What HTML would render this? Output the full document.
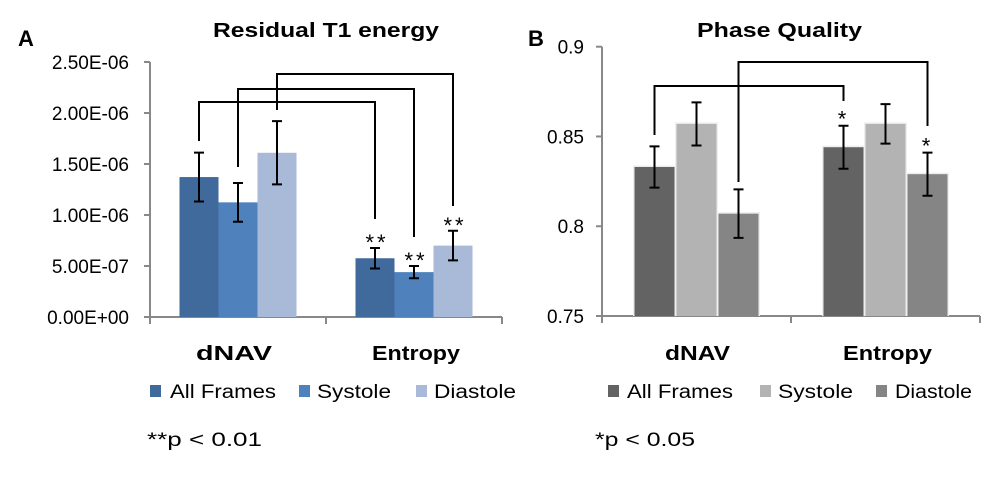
<!DOCTYPE html>
<html><head><meta charset="utf-8"><style>
body{margin:0;background:#fff;}
svg{display:block;font-family:"Liberation Sans",sans-serif;}
</style></head><body>
<svg id="s" width="1000" height="479" viewBox="0 0 1000 479">
<text x="18" y="46" font-size="22" font-weight="bold">A</text>
<text x="528" y="46" font-size="22" font-weight="bold">B</text>
<text x="213" y="37" font-size="20" font-weight="bold" textLength="226" lengthAdjust="spacingAndGlyphs">Residual T1 energy</text>
<text x="697" y="37" font-size="20" font-weight="bold" textLength="165" lengthAdjust="spacingAndGlyphs">Phase Quality</text>
<g id="ga"></g><g id="gb"></g>
<text x="196" y="360" font-size="20" font-weight="bold" textLength="76" lengthAdjust="spacingAndGlyphs">dNAV</text>
<text x="372" y="360" font-size="20" font-weight="bold" textLength="88" lengthAdjust="spacingAndGlyphs">Entropy</text>
<text x="665" y="360" font-size="20" font-weight="bold" textLength="65" lengthAdjust="spacingAndGlyphs">dNAV</text>
<text x="843" y="360" font-size="20" font-weight="bold" textLength="89" lengthAdjust="spacingAndGlyphs">Entropy</text>
<g>
<rect x="150" y="385" width="11" height="12" fill="#416a9c"/><text x="170" y="398" font-size="19" textLength="106" lengthAdjust="spacingAndGlyphs">All Frames</text>
<rect x="299" y="385" width="11" height="12" fill="#4f81bd"/><text x="317" y="398" font-size="19" textLength="74" lengthAdjust="spacingAndGlyphs">Systole</text>
<rect x="416" y="385" width="11" height="12" fill="#a9bad8"/><text x="434" y="398" font-size="19" textLength="82" lengthAdjust="spacingAndGlyphs">Diastole</text>
</g>
<g>
<rect x="608" y="385" width="11" height="12" fill="#636363"/><text x="627" y="398" font-size="19" textLength="106" lengthAdjust="spacingAndGlyphs">All Frames</text>
<rect x="760" y="385" width="11" height="12" fill="#b3b3b3"/><text x="778" y="398" font-size="19" textLength="75" lengthAdjust="spacingAndGlyphs">Systole</text>
<rect x="876" y="385" width="11" height="12" fill="#858585"/><text x="895" y="398" font-size="19" textLength="77" lengthAdjust="spacingAndGlyphs">Diastole</text>
</g>
<text x="147" y="446" font-size="19" textLength="115" lengthAdjust="spacingAndGlyphs">**p &lt; 0.01</text>
<text x="595" y="446" font-size="19" textLength="100" lengthAdjust="spacingAndGlyphs">*p &lt; 0.05</text>
</svg>
<script>
const NS="http://www.w3.org/2000/svg";
const aCategories=["dNAV","Entropy"];
const aSeriesNames=["All Frames","Systole","Diastole"];
const aAll=[1.372e-6,0.576e-6];
const aSys=[1.124e-6,0.44e-6];
const aDia=[1.61e-6,0.70e-6];
const aAllErr=[0.24e-6,0.10e-6];
const aSysErr=[0.19e-6,0.06e-6];
const aDiaErr=[0.31e-6,0.145e-6];
const aTicks=[0,5e-7,1e-6,1.5e-6,2e-6,2.5e-6];
const aTickLabels=["0.00E+00","5.00E-07","1.00E-06","1.50E-06","2.00E-06","2.50E-06"];
const bCategories=["dNAV","Entropy"];
const bAll=[0.833,0.844];
const bSys=[0.857,0.857];
const bDia=[0.807,0.829];
const bAllErr=[0.0115,0.012];
const bSysErr=[0.012,0.011];
const bDiaErr=[0.0135,0.012];
const bTicks=[0.75,0.8,0.85,0.9];
const bTickLabels=["0.75","0.8","0.85","0.9"];

function el(p,t,a){const e=document.createElementNS(NS,t);for(const k in a)e.setAttribute(k,a[k]);p.appendChild(e);return e;}

function chart(g,cfg){
  const y=v=>cfg.y0-(v-cfg.vmin)/(cfg.vmax-cfg.vmin)*(cfg.y0-cfg.y1);
  const cw=(cfg.x1-cfg.x0)/cfg.cats.length;
  cfg.ticks.forEach((t,i)=>{
    const l=el(g,"line",{x1:cfg.x0-6,x2:cfg.x0,y1:y(t),y2:y(t),stroke:"#888","stroke-width":2});
    
    
    const tx=el(g,"text",{x:cfg.x0-cfg.lgap,y:y(t)+7,"font-size":19,"text-anchor":"end"});
    tx.textContent=cfg.labels[i];
    
    
  });
  const ax=el(g,"path",{d:`M${cfg.x0} ${cfg.y1}V${cfg.y0}H${cfg.x1}`,fill:"none",stroke:"#888","stroke-width":2});
  
  
  for(let i=0;i<=cfg.cats.length;i++){
    const tk=el(g,"line",{x1:cfg.x0+i*cw,x2:cfg.x0+i*cw,y1:cfg.y0,y2:cfg.y0+7,stroke:"#888","stroke-width":2});
    
    
  }
  const centers=[];
  cfg.cats.forEach((c,ci)=>{
    const cx=cfg.x0+ci*cw+cw/2;
    centers.push([]);
    cfg.series.forEach((s,si)=>{
      const bx=cx+(si-1.5)*(cfg.bw+cfg.gap)+cfg.gap/2;
      const v=s[ci];
      if(cfg.gap>0){
        const sh=el(g,"rect",{x:bx-1.5,y:y(v)-1.5,width:cfg.bw+3,height:cfg.y0-y(v)+1.5,fill:"#eee"});
        
        
      }
      const r=el(g,"rect",{x:bx,y:y(v),width:cfg.bw,height:cfg.y0-y(v),fill:cfg.colors[si]});
      
      
      const ex=bx+cfg.bw/2, e=cfg.errs[si][ci];
      const eb=el(g,"path",{d:`M${ex} ${y(v+e)}V${y(v-e)}M${ex-5} ${y(v+e)}H${ex+5}M${ex-5} ${y(v-e)}H${ex+5}`,stroke:"#000","stroke-width":2,fill:"none"});
      
      
      centers[ci].push(ex);
    });
  });
  return {y,centers};
}

const ga=document.getElementById("ga");
const A=chart(ga,{x0:150,x1:502,y0:317,y1:62,vmin:0,vmax:2.5e-6,cats:aCategories,series:[aAll,aSys,aDia],errs:[aAllErr,aSysErr,aDiaErr],ticks:aTicks,labels:aTickLabels,bw:39,gap:0,lgap:21,colors:["#416a9c","#4f81bd","#a9bad8"]});
const gb=document.getElementById("gb");
const B=chart(gb,{x0:602,x1:980,y0:316,y1:46.7,vmin:0.75,vmax:0.9,cats:bCategories,series:[bAll,bSys,bDia],errs:[bAllErr,bSysErr,bDiaErr],ticks:bTicks,labels:bTickLabels,bw:40,gap:2,lgap:18,colors:["#636363","#b3b3b3","#858585"]});

function bracket(g,x1,y1,x2,y2,top){
  const p=el(g,"path",{d:`M${x1} ${y1}V${top}H${x2}V${y2}`,fill:"none",stroke:"#000","stroke-width":2});
  
  
}
function star(g,x,yy,t){
  const s=el(g,"text",{x:x,y:yy,"font-size":22,"text-anchor":"middle","letter-spacing":"3"});
  s.textContent=t;
  
  
}
bracket(ga,A.centers[0][0],141,A.centers[1][0],219,102);
bracket(ga,A.centers[0][1],167,A.centers[1][1],237,89);
bracket(ga,A.centers[0][2],110,A.centers[1][2],206,74);
[0,1,2].forEach(i=>{
  const vals=[aAll,aSys,aDia][i],errs=[aAllErr,aSysErr,aDiaErr][i];
  star(ga,A.centers[1][i]+2,A.y(vals[1]+errs[1])+2,"**");
});
bracket(gb,B.centers[0][0],135,B.centers[1][0],101,86);
bracket(gb,B.centers[0][2],182,B.centers[1][2],126,62);
star(gb,B.centers[1][0],B.y(bAll[1]+bAllErr[1])+1,"*");
star(gb,B.centers[1][2],B.y(bDia[1]+bDiaErr[1])+1,"*");
</script>
</body></html>
